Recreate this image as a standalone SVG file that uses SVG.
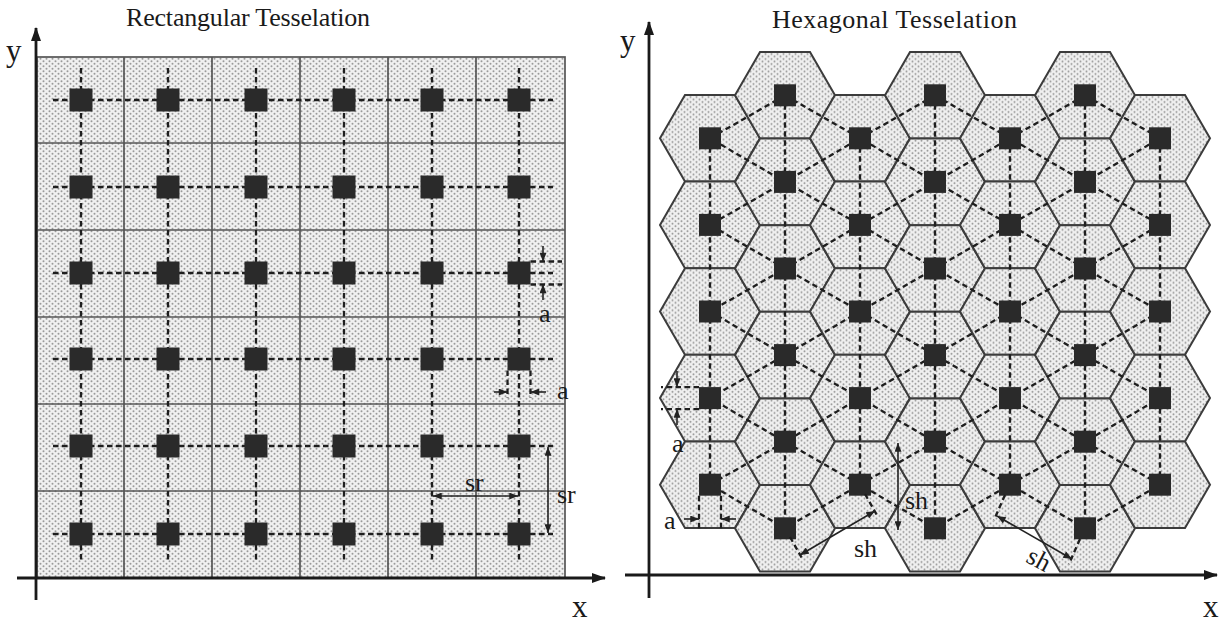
<svg xmlns="http://www.w3.org/2000/svg" xmlns:xlink="http://www.w3.org/1999/xlink" width="1223" height="625" viewBox="0 0 1223 625">
<style>
text{font-family:"Liberation Serif","Times New Roman",serif;fill:#1a1a1a}
.title{font-size:26px}
.ax{font-size:31px}
.lbl{font-size:26px}
.grid{fill:none;stroke:#555;stroke-width:1.7}
.hex{fill:url(#dots);stroke:#3c3c3c;stroke-width:2}
.dash{fill:none;stroke:#1e1e1e;stroke-width:2.3;stroke-dasharray:5.5 3.5}
.axis{stroke:#1a1a1a;stroke-width:2.8;fill:none}
.dim{stroke:#222;stroke-width:1.6;fill:none}
.sq{fill:#2a2a2a}
</style>
<defs>
<pattern id="dots" width="6" height="5" patternUnits="userSpaceOnUse">
<rect width="6" height="5" fill="#f0f0f0"/>
<circle cx="1.5" cy="1.25" r="1" fill="#9a9a9a"/>
<circle cx="4.5" cy="3.75" r="1" fill="#9a9a9a"/>
</pattern>
<marker id="ah" viewBox="0 0 10 8" refX="10" refY="4" markerWidth="10" markerHeight="7" markerUnits="userSpaceOnUse" orient="auto-start-reverse">
<path d="M0,0 L10,4 L0,8 z" fill="#222"/>
</marker>
<marker id="axh" viewBox="0 0 14 10" refX="13" refY="5" markerWidth="14" markerHeight="10" markerUnits="userSpaceOnUse" orient="auto">
<path d="M0,0 L14,5 L0,10 z" fill="#1a1a1a"/>
</marker>
<polygon id="hx" class="hex" points="-50,0 -25,-43.3 25,-43.3 50,0 25,43.3 -25,43.3"/>
<rect id="rs" class="sq" x="-11.5" y="-11.5" width="23" height="23"/>
<rect id="hs" class="sq" x="-11" y="-11" width="22" height="22"/>
</defs>
<rect width="1223" height="625" fill="#ffffff"/>

<g id="titles">
<text class="title" x="126" y="26" textLength="244">Rectangular Tesselation</text>
<text class="title" x="772" y="28" textLength="245">Hexagonal Tesselation</text>
</g>

<!-- Rectangular tiles -->
<g id="rect-tiles">
<rect x="37" y="57" width="528" height="521" fill="url(#dots)" stroke="#555" stroke-width="1.7"/>
<path class="grid" d="M124,57V578 M212,57V578 M300,57V578 M388,57V578 M476,57V578 M37,143H565 M37,230H565 M37,317H565 M37,404H565 M37,491H565"/>
</g>

<!-- Hexagonal tiles -->
<g id="hex-tiles">
<use href="#hx" x="710" y="138.3"/><use href="#hx" x="710" y="224.9"/><use href="#hx" x="710" y="311.5"/><use href="#hx" x="710" y="398.1"/><use href="#hx" x="710" y="484.7"/>
<use href="#hx" x="785" y="95.3"/><use href="#hx" x="785" y="181.9"/><use href="#hx" x="785" y="268.5"/><use href="#hx" x="785" y="355.1"/><use href="#hx" x="785" y="441.7"/><use href="#hx" x="785" y="528.3"/>
<use href="#hx" x="860" y="138.3"/><use href="#hx" x="860" y="224.9"/><use href="#hx" x="860" y="311.5"/><use href="#hx" x="860" y="398.1"/><use href="#hx" x="860" y="484.7"/>
<use href="#hx" x="935" y="95.3"/><use href="#hx" x="935" y="181.9"/><use href="#hx" x="935" y="268.5"/><use href="#hx" x="935" y="355.1"/><use href="#hx" x="935" y="441.7"/><use href="#hx" x="935" y="528.3"/>
<use href="#hx" x="1010" y="138.3"/><use href="#hx" x="1010" y="224.9"/><use href="#hx" x="1010" y="311.5"/><use href="#hx" x="1010" y="398.1"/><use href="#hx" x="1010" y="484.7"/>
<use href="#hx" x="1085" y="95.3"/><use href="#hx" x="1085" y="181.9"/><use href="#hx" x="1085" y="268.5"/><use href="#hx" x="1085" y="355.1"/><use href="#hx" x="1085" y="441.7"/><use href="#hx" x="1085" y="528.3"/>
<use href="#hx" x="1160" y="138.3"/><use href="#hx" x="1160" y="224.9"/><use href="#hx" x="1160" y="311.5"/><use href="#hx" x="1160" y="398.1"/><use href="#hx" x="1160" y="484.7"/>
</g>

<!-- Connectors -->
<g id="connectors">
<path class="dash" d="M81,68V562 M168,68V562 M256,68V562 M344,68V562 M432,68V562 M519,68V562 M53,100H553 M53,187H553 M53,273H553 M53,359H553 M53,446H553 M53,534H553"/>
<path class="dash" d="M710,138.3V484.7 M860,138.3V484.7 M1010,138.3V484.7 M1160,138.3V484.7 M785,95.3V528.3 M935,95.3V528.3 M1085,95.3V528.3"/>
<polyline class="dash" points="785,95.3 710,138.3 785,181.9 710,224.9 785,268.5 710,311.5 785,355.1 710,398.1 785,441.7 710,484.7 785,528.3"/>
<polyline class="dash" points="785,95.3 860,138.3 785,181.9 860,224.9 785,268.5 860,311.5 785,355.1 860,398.1 785,441.7 860,484.7 785,528.3"/>
<polyline class="dash" points="935,95.3 860,138.3 935,181.9 860,224.9 935,268.5 860,311.5 935,355.1 860,398.1 935,441.7 860,484.7 935,528.3"/>
<polyline class="dash" points="935,95.3 1010,138.3 935,181.9 1010,224.9 935,268.5 1010,311.5 935,355.1 1010,398.1 935,441.7 1010,484.7 935,528.3"/>
<polyline class="dash" points="1085,95.3 1010,138.3 1085,181.9 1010,224.9 1085,268.5 1010,311.5 1085,355.1 1010,398.1 1085,441.7 1010,484.7 1085,528.3"/>
<polyline class="dash" points="1085,95.3 1160,138.3 1085,181.9 1160,224.9 1085,268.5 1160,311.5 1085,355.1 1160,398.1 1085,441.7 1160,484.7 1085,528.3"/>
</g>

<!-- Rectangular nodes -->
<g id="rect-nodes">
<g id="r1c1"><use href="#rs" x="81" y="100"/></g><g id="r1c2"><use href="#rs" x="168" y="100"/></g><g id="r1c3"><use href="#rs" x="256" y="100"/></g><g id="r1c4"><use href="#rs" x="344" y="100"/></g><g id="r1c5"><use href="#rs" x="432" y="100"/></g><g id="r1c6"><use href="#rs" x="519" y="100"/></g>
<g id="r2c1"><use href="#rs" x="81" y="187"/></g><g id="r2c2"><use href="#rs" x="168" y="187"/></g><g id="r2c3"><use href="#rs" x="256" y="187"/></g><g id="r2c4"><use href="#rs" x="344" y="187"/></g><g id="r2c5"><use href="#rs" x="432" y="187"/></g><g id="r2c6"><use href="#rs" x="519" y="187"/></g>
<g id="r3c1"><use href="#rs" x="81" y="273"/></g><g id="r3c2"><use href="#rs" x="168" y="273"/></g><g id="r3c3"><use href="#rs" x="256" y="273"/></g><g id="r3c4"><use href="#rs" x="344" y="273"/></g><g id="r3c5"><use href="#rs" x="432" y="273"/></g><g id="r3c6"><use href="#rs" x="519" y="273"/></g>
<g id="r4c1"><use href="#rs" x="81" y="359"/></g><g id="r4c2"><use href="#rs" x="168" y="359"/></g><g id="r4c3"><use href="#rs" x="256" y="359"/></g><g id="r4c4"><use href="#rs" x="344" y="359"/></g><g id="r4c5"><use href="#rs" x="432" y="359"/></g><g id="r4c6"><use href="#rs" x="519" y="359"/></g>
<g id="r5c1"><use href="#rs" x="81" y="446"/></g><g id="r5c2"><use href="#rs" x="168" y="446"/></g><g id="r5c3"><use href="#rs" x="256" y="446"/></g><g id="r5c4"><use href="#rs" x="344" y="446"/></g><g id="r5c5"><use href="#rs" x="432" y="446"/></g><g id="r5c6"><use href="#rs" x="519" y="446"/></g>
<g id="r6c1"><use href="#rs" x="81" y="534"/></g><g id="r6c2"><use href="#rs" x="168" y="534"/></g><g id="r6c3"><use href="#rs" x="256" y="534"/></g><g id="r6c4"><use href="#rs" x="344" y="534"/></g><g id="r6c5"><use href="#rs" x="432" y="534"/></g><g id="r6c6"><use href="#rs" x="519" y="534"/></g>
</g>

<!-- Hexagonal nodes -->
<g id="hex-nodes">
<g id="h1-1"><use href="#hs" x="710" y="138.3"/></g><g id="h1-2"><use href="#hs" x="710" y="224.9"/></g><g id="h1-3"><use href="#hs" x="710" y="311.5"/></g><g id="h1-4"><use href="#hs" x="710" y="398.1"/></g><g id="h1-5"><use href="#hs" x="710" y="484.7"/></g>
<g id="h2-1"><use href="#hs" x="785" y="95.3"/></g><g id="h2-2"><use href="#hs" x="785" y="181.9"/></g><g id="h2-3"><use href="#hs" x="785" y="268.5"/></g><g id="h2-4"><use href="#hs" x="785" y="355.1"/></g><g id="h2-5"><use href="#hs" x="785" y="441.7"/></g><g id="h2-6"><use href="#hs" x="785" y="528.3"/></g>
<g id="h3-1"><use href="#hs" x="860" y="138.3"/></g><g id="h3-2"><use href="#hs" x="860" y="224.9"/></g><g id="h3-3"><use href="#hs" x="860" y="311.5"/></g><g id="h3-4"><use href="#hs" x="860" y="398.1"/></g><g id="h3-5"><use href="#hs" x="860" y="484.7"/></g>
<g id="h4-1"><use href="#hs" x="935" y="95.3"/></g><g id="h4-2"><use href="#hs" x="935" y="181.9"/></g><g id="h4-3"><use href="#hs" x="935" y="268.5"/></g><g id="h4-4"><use href="#hs" x="935" y="355.1"/></g><g id="h4-5"><use href="#hs" x="935" y="441.7"/></g><g id="h4-6"><use href="#hs" x="935" y="528.3"/></g>
<g id="h5-1"><use href="#hs" x="1010" y="138.3"/></g><g id="h5-2"><use href="#hs" x="1010" y="224.9"/></g><g id="h5-3"><use href="#hs" x="1010" y="311.5"/></g><g id="h5-4"><use href="#hs" x="1010" y="398.1"/></g><g id="h5-5"><use href="#hs" x="1010" y="484.7"/></g>
<g id="h6-1"><use href="#hs" x="1085" y="95.3"/></g><g id="h6-2"><use href="#hs" x="1085" y="181.9"/></g><g id="h6-3"><use href="#hs" x="1085" y="268.5"/></g><g id="h6-4"><use href="#hs" x="1085" y="355.1"/></g><g id="h6-5"><use href="#hs" x="1085" y="441.7"/></g><g id="h6-6"><use href="#hs" x="1085" y="528.3"/></g>
<g id="h7-1"><use href="#hs" x="1160" y="138.3"/></g><g id="h7-2"><use href="#hs" x="1160" y="224.9"/></g><g id="h7-3"><use href="#hs" x="1160" y="311.5"/></g><g id="h7-4"><use href="#hs" x="1160" y="398.1"/></g><g id="h7-5"><use href="#hs" x="1160" y="484.7"/></g>
</g>

<!-- Dimension annotations -->
<g id="dimensions">
<path class="dash" d="M530.5,261.5H562 M530.5,284.5H562 M507.5,370.5V398 M530.5,370.5V398"/>
<line class="dim" x1="543" y1="246" x2="543" y2="261.5" marker-end="url(#ah)"/>
<line class="dim" x1="543" y1="300" x2="543" y2="284.5" marker-end="url(#ah)"/>
<line class="dim" x1="494" y1="392" x2="507.5" y2="392" marker-end="url(#ah)"/>
<line class="dim" x1="546" y1="392" x2="530.5" y2="392" marker-end="url(#ah)"/>
<line class="dim" x1="433" y1="496" x2="518" y2="496" marker-start="url(#ah)" marker-end="url(#ah)"/>
<line class="dim" x1="548" y1="447" x2="548" y2="533" marker-start="url(#ah)" marker-end="url(#ah)"/>
<text class="lbl" x="539" y="322">a</text>
<text class="lbl" x="557" y="399">a</text>
<text class="lbl" x="465" y="491">sr</text>
<text class="lbl" x="557" y="503">sr</text>

<path class="dash" d="M699,387.1H661 M699,409.1H661 M699,495.7V529 M721,495.7V529 M790,537L803,560 M865,494L878,517 M1005,495L994,520 M1080,539L1069,564"/>
<line class="dim" x1="677" y1="371" x2="677" y2="387" marker-end="url(#ah)"/>
<line class="dim" x1="677" y1="425" x2="677" y2="409" marker-end="url(#ah)"/>
<line class="dim" x1="684" y1="519" x2="699" y2="519" marker-end="url(#ah)"/>
<line class="dim" x1="736" y1="519" x2="721" y2="519" marker-end="url(#ah)"/>
<line class="dim" x1="898" y1="443" x2="898" y2="530" marker-start="url(#ah)" marker-end="url(#ah)"/>
<line class="dim" x1="800" y1="555" x2="875" y2="511" marker-start="url(#ah)" marker-end="url(#ah)"/>
<line class="dim" x1="997" y1="516" x2="1072" y2="559" marker-start="url(#ah)" marker-end="url(#ah)"/>
<text class="lbl" x="672" y="452">a</text>
<text class="lbl" x="664" y="529">a</text>
<text class="lbl" x="905" y="509">sh</text>
<text class="lbl" x="854" y="557">sh</text>
<text class="lbl" text-anchor="middle" transform="translate(1035,567) rotate(28)">sh</text>
</g>

<!-- Axes -->
<g id="axes">
<line class="axis" x1="36" y1="600" x2="36" y2="28" marker-end="url(#axh)"/>
<line class="axis" x1="17" y1="578" x2="605" y2="578" marker-end="url(#axh)"/>
<line class="axis" x1="649" y1="598" x2="649" y2="22" marker-end="url(#axh)"/>
<line class="axis" x1="625" y1="575" x2="1217" y2="575" marker-end="url(#axh)"/>
<text class="ax" x="6" y="61">y</text>
<text class="ax" x="572" y="617">x</text>
<text class="ax" x="620" y="51">y</text>
<text class="ax" x="1203" y="617">x</text>
</g>
</svg>
